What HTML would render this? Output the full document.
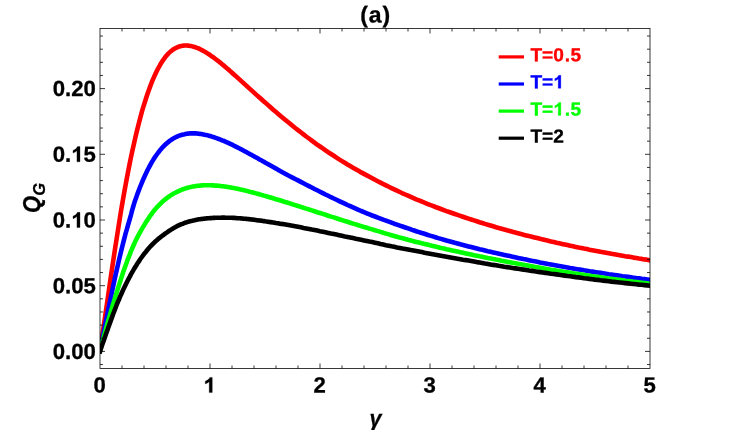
<!DOCTYPE html>
<html><head><meta charset="utf-8"><title>plot</title>
<style>
html,body{margin:0;padding:0;background:#fff;}
body{width:750px;height:430px;overflow:hidden;font-family:"Liberation Sans",sans-serif;}
svg{display:block;will-change:transform;}
text{font-family:"Liberation Sans",sans-serif;font-weight:bold;}
</style></head><body>
<svg width="750" height="430" viewBox="0 0 750 430">
<rect width="750" height="430" fill="#fff"/>
<defs><clipPath id="c"><rect x="100" y="28.5" width="550" height="340.0"/></clipPath></defs>
<g clip-path="url(#c)" fill="none" stroke-width="4.6" stroke-linejoin="round" stroke-linecap="square">
<path d="M100.0 351.3 L101.2 343.3 L102.3 335.3 L103.5 327.3 L104.7 319.4 L105.8 311.5 L107.0 303.7 L108.1 296.0 L109.2 288.3 L110.3 280.7 L111.4 273.2 L112.5 265.7 L113.6 258.4 L114.7 251.1 L115.8 244.0 L116.9 237.0 L118.0 230.0 L119.1 223.2 L120.1 216.5 L121.2 209.9 L122.3 203.5 L123.4 197.2 L124.5 191.0 L125.6 184.9 L126.7 179.0 L127.8 173.2 L128.9 167.5 L130.0 162.0 L131.1 156.6 L132.2 151.4 L133.4 146.3 L134.5 141.3 L135.6 136.5 L136.7 131.9 L137.8 127.4 L138.9 123.0 L140.0 118.8 L141.1 114.7 L142.2 110.7 L143.3 106.9 L144.5 103.2 L145.6 99.7 L146.7 96.3 L147.8 93.0 L148.9 89.9 L150.0 86.9 L151.1 84.0 L152.2 81.2 L153.3 78.6 L154.4 76.1 L155.5 73.7 L156.6 71.4 L157.7 69.3 L158.8 67.2 L159.9 65.3 L160.9 63.4 L162.0 61.7 L163.1 60.1 L164.2 58.6 L165.3 57.1 L166.4 55.8 L167.4 54.6 L168.5 53.4 L169.6 52.4 L170.7 51.4 L171.8 50.6 L172.8 49.7 L173.9 49.0 L175.0 48.4 L176.1 47.8 L177.2 47.3 L178.2 46.9 L179.3 46.5 L180.4 46.2 L181.5 45.9 L182.5 45.7 L183.6 45.6 L184.7 45.5 L185.8 45.5 L186.9 45.5 L188.0 45.6 L189.1 45.7 L190.2 45.9 L191.3 46.1 L192.4 46.4 L193.5 46.7 L194.6 47.0 L195.7 47.4 L196.8 47.8 L197.9 48.2 L199.0 48.7 L200.1 49.2 L201.2 49.8 L202.3 50.3 L203.4 50.9 L204.5 51.6 L205.6 52.2 L206.7 52.9 L207.8 53.6 L208.9 54.3 L210.0 55.0 L211.1 55.8 L212.2 56.6 L213.3 57.3 L214.4 58.2 L215.5 59.0 L216.6 59.8 L217.7 60.7 L218.8 61.5 L219.9 62.4 L221.0 63.3 L222.1 64.2 L223.2 65.1 L224.3 66.0 L225.4 67.0 L226.5 67.9 L227.6 68.9 L228.7 69.8 L229.8 70.8 L230.9 71.7 L232.0 72.7 L233.1 73.7 L234.2 74.7 L235.3 75.6 L236.4 76.6 L237.5 77.6 L238.6 78.6 L239.7 79.6 L240.8 80.6 L241.9 81.6 L243.0 82.6 L244.1 83.6 L245.2 84.6 L246.3 85.6 L247.4 86.6 L248.5 87.6 L249.6 88.6 L250.7 89.6 L251.8 90.6 L252.9 91.6 L254.0 92.6 L255.1 93.6 L256.2 94.6 L257.3 95.6 L258.4 96.6 L259.5 97.5 L260.6 98.5 L261.7 99.5 L262.8 100.5 L263.9 101.5 L265.0 102.4 L267.8 104.9 L270.5 107.3 L273.2 109.7 L276.0 112.0 L278.8 114.4 L281.5 116.7 L284.2 119.0 L287.0 121.3 L289.8 123.5 L292.5 125.8 L295.2 128.0 L298.0 130.1 L300.8 132.3 L303.5 134.4 L306.2 136.5 L309.0 138.5 L311.8 140.6 L314.5 142.6 L317.2 144.6 L320.0 146.5 L322.8 148.4 L325.5 150.3 L328.2 152.2 L331.0 154.0 L333.8 155.8 L336.5 157.6 L339.2 159.4 L342.0 161.1 L344.8 162.8 L347.5 164.5 L350.2 166.1 L353.0 167.7 L355.8 169.3 L358.5 170.8 L361.2 172.4 L364.0 173.9 L366.8 175.4 L369.5 176.8 L372.2 178.3 L375.0 179.8 L377.8 181.2 L380.5 182.6 L383.2 184.0 L386.0 185.4 L388.8 186.8 L391.5 188.1 L394.2 189.4 L397.0 190.7 L399.8 192.0 L402.5 193.3 L405.3 194.5 L408.0 195.7 L410.8 196.9 L413.5 198.1 L416.2 199.3 L419.0 200.4 L421.8 201.5 L424.5 202.7 L427.2 203.8 L430.0 204.9 L432.8 205.9 L435.5 207.0 L438.2 208.0 L441.0 209.0 L443.8 210.1 L446.5 211.1 L449.2 212.0 L452.0 213.0 L454.8 214.0 L457.5 214.9 L460.3 215.9 L463.0 216.8 L465.8 217.7 L468.5 218.6 L471.2 219.5 L474.0 220.4 L476.8 221.3 L479.5 222.2 L482.2 223.0 L485.0 223.9 L487.8 224.7 L490.5 225.5 L493.2 226.3 L496.0 227.2 L498.8 228.0 L501.5 228.7 L504.3 229.5 L507.0 230.3 L509.8 231.0 L512.5 231.8 L515.2 232.5 L518.0 233.2 L520.8 233.9 L523.5 234.7 L526.2 235.4 L529.0 236.1 L531.8 236.7 L534.5 237.4 L537.2 238.1 L540.0 238.8 L542.8 239.4 L545.5 240.1 L548.2 240.7 L551.0 241.4 L553.8 242.0 L556.5 242.7 L559.2 243.3 L562.0 243.9 L564.8 244.5 L567.5 245.1 L570.2 245.7 L573.0 246.3 L575.8 246.9 L578.5 247.5 L581.2 248.0 L584.0 248.6 L586.8 249.1 L589.5 249.7 L592.2 250.2 L595.0 250.7 L597.8 251.2 L600.5 251.8 L603.2 252.3 L606.0 252.8 L608.8 253.3 L611.5 253.8 L614.3 254.2 L617.0 254.7 L619.8 255.2 L622.5 255.7 L625.2 256.2 L628.0 256.6 L630.8 257.1 L633.5 257.6 L636.2 258.0 L639.0 258.5 L641.8 258.9 L644.5 259.4 L647.2 259.8 L650.0 260.3" stroke="#ff0000"/>
<path d="M100.0 351.3 L101.2 345.4 L102.3 339.5 L103.5 333.6 L104.6 327.9 L105.7 322.2 L106.9 316.5 L108.0 311.0 L109.1 305.4 L110.3 300.0 L111.4 294.7 L112.5 289.4 L113.6 284.2 L114.7 279.1 L115.8 274.1 L116.9 269.2 L118.0 264.4 L119.1 259.6 L120.2 255.0 L121.3 250.4 L122.4 246.0 L123.5 241.6 L124.6 237.4 L125.7 233.2 L126.9 229.2 L128.0 225.2 L129.1 221.4 L130.2 217.6 L131.2 214.0 L132.1 210.4 L133.1 207.0 L134.1 203.6 L135.2 200.3 L136.3 197.2 L137.4 194.1 L138.5 191.1 L139.6 188.2 L140.7 185.5 L141.8 182.8 L142.9 180.2 L144.0 177.7 L145.1 175.2 L146.2 172.9 L147.3 170.6 L148.4 168.5 L149.5 166.4 L150.6 164.4 L151.7 162.4 L152.8 160.6 L153.9 158.8 L155.0 157.1 L156.1 155.5 L157.2 154.0 L158.3 152.5 L159.4 151.1 L160.5 149.7 L161.6 148.4 L162.7 147.2 L163.8 146.1 L164.9 145.0 L166.0 144.0 L167.1 143.0 L168.2 142.1 L169.3 141.2 L170.4 140.4 L171.5 139.7 L172.6 138.9 L173.7 138.3 L174.8 137.7 L175.9 137.1 L177.0 136.6 L178.1 136.1 L179.2 135.7 L180.3 135.3 L181.4 135.0 L182.5 134.7 L183.6 134.4 L184.7 134.2 L185.8 133.9 L186.9 133.8 L188.0 133.6 L189.1 133.5 L190.2 133.4 L191.3 133.4 L192.4 133.4 L193.5 133.4 L194.6 133.4 L195.7 133.4 L196.8 133.5 L197.9 133.6 L199.0 133.7 L200.1 133.9 L201.2 134.0 L202.3 134.2 L203.4 134.4 L204.5 134.7 L205.6 134.9 L206.7 135.1 L207.8 135.4 L208.9 135.7 L210.0 136.0 L211.1 136.3 L212.2 136.7 L213.3 137.0 L214.4 137.4 L215.5 137.8 L216.6 138.2 L217.7 138.6 L218.8 139.0 L219.9 139.4 L221.0 139.8 L222.1 140.3 L223.2 140.7 L224.3 141.2 L225.4 141.7 L226.5 142.2 L227.6 142.7 L228.7 143.2 L229.8 143.7 L230.9 144.2 L232.0 144.7 L233.1 145.2 L234.2 145.8 L235.3 146.3 L236.4 146.9 L237.5 147.4 L238.6 148.0 L239.7 148.6 L240.8 149.1 L241.9 149.7 L243.0 150.3 L244.1 150.9 L245.2 151.5 L246.3 152.1 L247.4 152.7 L248.5 153.3 L249.6 153.9 L250.7 154.5 L251.8 155.1 L252.9 155.7 L254.0 156.3 L255.1 156.9 L256.2 157.5 L257.3 158.1 L258.4 158.7 L259.5 159.4 L260.6 160.0 L261.7 160.6 L262.8 161.2 L263.9 161.8 L265.0 162.5 L267.8 164.0 L270.5 165.6 L273.2 167.1 L276.0 168.6 L278.8 170.2 L281.5 171.7 L284.2 173.2 L287.0 174.7 L289.8 176.2 L292.5 177.6 L295.2 179.0 L298.0 180.4 L300.8 181.9 L303.5 183.3 L306.2 184.7 L309.0 186.1 L311.8 187.5 L314.5 189.0 L317.2 190.3 L320.0 191.7 L322.8 193.1 L325.5 194.5 L328.2 195.8 L331.0 197.2 L333.8 198.5 L336.5 199.8 L339.2 201.1 L342.0 202.4 L344.8 203.7 L347.5 205.0 L350.2 206.2 L353.0 207.4 L355.8 208.6 L358.5 209.8 L361.2 211.0 L364.0 212.1 L366.8 213.3 L369.5 214.4 L372.2 215.5 L375.0 216.5 L377.8 217.6 L380.5 218.6 L383.2 219.7 L386.0 220.7 L388.8 221.7 L391.5 222.7 L394.2 223.7 L397.0 224.6 L399.8 225.6 L402.5 226.5 L405.3 227.5 L408.0 228.4 L410.8 229.3 L413.5 230.3 L416.2 231.2 L419.0 232.1 L421.8 233.0 L424.5 233.8 L427.2 234.7 L430.0 235.6 L432.8 236.4 L435.5 237.2 L438.2 238.1 L441.0 238.9 L443.8 239.7 L446.5 240.5 L449.2 241.2 L452.0 242.0 L454.8 242.8 L457.5 243.5 L460.3 244.3 L463.0 245.0 L465.8 245.7 L468.5 246.4 L471.2 247.1 L474.0 247.8 L476.8 248.5 L479.5 249.2 L482.2 249.8 L485.0 250.5 L487.8 251.2 L490.5 251.8 L493.2 252.4 L496.0 253.1 L498.8 253.7 L501.5 254.3 L504.3 254.9 L507.0 255.5 L509.8 256.1 L512.5 256.7 L515.2 257.3 L518.0 257.9 L520.8 258.5 L523.5 259.1 L526.2 259.6 L529.0 260.2 L531.8 260.8 L534.5 261.3 L537.2 261.8 L540.0 262.4 L542.8 262.9 L545.5 263.4 L548.2 264.0 L551.0 264.5 L553.8 265.0 L556.5 265.5 L559.2 266.0 L562.0 266.5 L564.8 267.0 L567.5 267.5 L570.2 268.0 L573.0 268.4 L575.8 268.9 L578.5 269.4 L581.2 269.8 L584.0 270.3 L586.8 270.7 L589.5 271.2 L592.2 271.6 L595.0 272.1 L597.8 272.5 L600.5 272.9 L603.2 273.3 L606.0 273.7 L608.8 274.2 L611.5 274.6 L614.3 275.0 L617.0 275.4 L619.8 275.8 L622.5 276.2 L625.2 276.5 L628.0 276.9 L630.8 277.3 L633.5 277.7 L636.2 278.1 L639.0 278.4 L641.8 278.8 L644.5 279.1 L647.2 279.5 L650.0 279.9" stroke="#0000ff"/>
<path d="M100.0 351.3 L101.2 346.6 L102.5 341.9 L103.7 337.4 L104.9 332.9 L106.1 328.5 L107.3 324.2 L108.5 319.9 L109.7 315.7 L110.9 311.7 L112.1 307.7 L113.2 303.7 L114.4 299.9 L115.5 296.2 L116.7 292.5 L117.8 288.9 L118.9 285.4 L120.0 282.0 L121.1 278.6 L122.2 275.3 L123.2 272.1 L124.3 269.0 L125.4 266.0 L126.5 263.0 L127.5 260.1 L128.6 257.3 L129.7 254.6 L130.7 251.9 L131.8 249.3 L132.9 246.8 L134.0 244.3 L135.1 241.9 L136.2 239.6 L137.3 237.4 L138.5 235.2 L139.6 233.0 L140.8 231.0 L141.9 229.0 L143.0 227.0 L144.2 225.2 L145.3 223.3 L146.4 221.6 L147.5 219.9 L148.6 218.3 L149.6 216.7 L150.7 215.2 L151.7 213.8 L152.7 212.4 L153.7 211.1 L154.8 209.8 L155.8 208.6 L156.8 207.4 L157.8 206.3 L158.8 205.3 L159.8 204.3 L160.8 203.3 L161.8 202.3 L162.8 201.4 L163.8 200.5 L164.9 199.6 L166.0 198.8 L167.1 197.9 L168.2 197.1 L169.3 196.3 L170.4 195.6 L171.5 194.9 L172.6 194.2 L173.7 193.6 L174.8 193.0 L175.9 192.4 L177.0 191.8 L178.1 191.3 L179.2 190.8 L180.3 190.3 L181.4 189.9 L182.5 189.4 L183.6 189.0 L184.7 188.7 L185.8 188.3 L186.9 188.0 L188.0 187.7 L189.1 187.4 L190.2 187.1 L191.3 186.9 L192.4 186.6 L193.5 186.4 L194.6 186.2 L195.7 186.1 L196.8 185.9 L197.9 185.8 L199.0 185.7 L200.1 185.6 L201.2 185.5 L202.3 185.4 L203.4 185.3 L204.5 185.3 L205.6 185.3 L206.7 185.2 L207.8 185.2 L208.9 185.3 L210.0 185.3 L211.1 185.3 L212.2 185.4 L213.3 185.4 L214.4 185.5 L215.5 185.6 L216.6 185.6 L217.7 185.7 L218.8 185.8 L219.9 185.9 L221.0 186.1 L222.1 186.2 L223.2 186.3 L224.3 186.5 L225.4 186.6 L226.5 186.8 L227.6 187.0 L228.7 187.2 L229.8 187.3 L230.9 187.5 L232.0 187.7 L233.1 187.9 L234.2 188.1 L235.3 188.4 L236.4 188.6 L237.5 188.8 L238.6 189.0 L239.7 189.3 L240.8 189.5 L241.9 189.8 L243.0 190.0 L244.1 190.3 L245.2 190.6 L246.3 190.8 L247.4 191.1 L248.5 191.4 L249.6 191.7 L250.7 191.9 L251.8 192.2 L252.9 192.5 L254.0 192.8 L255.1 193.1 L256.2 193.4 L257.3 193.7 L258.4 194.0 L259.5 194.3 L260.6 194.6 L261.7 194.9 L262.8 195.3 L263.9 195.6 L265.0 195.9 L267.8 196.7 L270.5 197.5 L273.2 198.3 L276.0 199.2 L278.8 200.0 L281.5 200.8 L284.2 201.7 L287.0 202.5 L289.8 203.4 L292.5 204.3 L295.2 205.1 L298.0 206.0 L300.8 206.9 L303.5 207.8 L306.2 208.6 L309.0 209.5 L311.8 210.4 L314.5 211.3 L317.2 212.2 L320.0 213.0 L322.8 213.9 L325.5 214.8 L328.2 215.7 L331.0 216.6 L333.8 217.4 L336.5 218.3 L339.2 219.2 L342.0 220.1 L344.8 221.0 L347.5 221.8 L350.2 222.7 L353.0 223.6 L355.8 224.4 L358.5 225.3 L361.2 226.1 L364.0 227.0 L366.8 227.8 L369.5 228.6 L372.2 229.4 L375.0 230.3 L377.8 231.1 L380.5 231.9 L383.2 232.8 L386.0 233.6 L388.8 234.4 L391.5 235.2 L394.2 236.0 L397.0 236.8 L399.8 237.6 L402.5 238.3 L405.3 239.0 L408.0 239.8 L410.8 240.5 L413.5 241.2 L416.2 241.9 L419.0 242.6 L421.8 243.3 L424.5 243.9 L427.2 244.6 L430.0 245.3 L432.8 245.9 L435.5 246.6 L438.2 247.2 L441.0 247.9 L443.8 248.5 L446.5 249.2 L449.2 249.8 L452.0 250.4 L454.8 251.0 L457.5 251.6 L460.3 252.2 L463.0 252.8 L465.8 253.4 L468.5 254.0 L471.2 254.6 L474.0 255.2 L476.8 255.7 L479.5 256.3 L482.2 256.8 L485.0 257.4 L487.8 258.0 L490.5 258.5 L493.2 259.0 L496.0 259.6 L498.8 260.1 L501.5 260.7 L504.3 261.2 L507.0 261.7 L509.8 262.2 L512.5 262.7 L515.2 263.2 L518.0 263.8 L520.8 264.3 L523.5 264.8 L526.2 265.3 L529.0 265.8 L531.8 266.3 L534.5 266.8 L537.2 267.2 L540.0 267.7 L542.8 268.2 L545.5 268.7 L548.2 269.2 L551.0 269.7 L553.8 270.1 L556.5 270.6 L559.2 271.0 L562.0 271.5 L564.8 272.0 L567.5 272.4 L570.2 272.8 L573.0 273.3 L575.8 273.7 L578.5 274.1 L581.2 274.5 L584.0 274.9 L586.8 275.4 L589.5 275.8 L592.2 276.2 L595.0 276.6 L597.8 276.9 L600.5 277.3 L603.2 277.7 L606.0 278.1 L608.8 278.5 L611.5 278.8 L614.3 279.2 L617.0 279.6 L619.8 279.9 L622.5 280.3 L625.2 280.7 L628.0 281.0 L630.8 281.4 L633.5 281.7 L636.2 282.0 L639.0 282.4 L641.8 282.7 L644.5 283.0 L647.2 283.4 L650.0 283.7" stroke="#00ff00"/>
<path d="M100.0 351.3 L101.2 347.7 L102.4 344.2 L103.7 340.7 L104.9 337.3 L106.0 334.0 L107.2 330.7 L108.3 327.6 L109.4 324.4 L110.5 321.4 L111.6 318.4 L112.7 315.4 L113.7 312.6 L114.8 309.8 L115.9 307.0 L116.9 304.3 L118.0 301.7 L119.1 299.2 L120.1 296.6 L121.2 294.2 L122.3 291.8 L123.3 289.5 L124.4 287.2 L125.5 285.0 L126.6 282.8 L127.6 280.7 L128.7 278.6 L129.8 276.6 L130.8 274.6 L131.9 272.7 L133.0 270.8 L134.0 269.0 L135.1 267.2 L136.2 265.5 L137.2 263.8 L138.3 262.2 L139.4 260.6 L140.4 259.0 L141.5 257.5 L142.6 256.0 L143.6 254.6 L144.7 253.2 L145.8 251.9 L146.9 250.5 L147.9 249.3 L149.0 248.0 L150.1 246.8 L151.2 245.6 L152.3 244.5 L153.4 243.4 L154.5 242.3 L155.6 241.3 L156.8 240.3 L157.9 239.3 L159.0 238.3 L160.2 237.4 L161.3 236.5 L162.5 235.6 L163.6 234.8 L164.8 233.9 L165.9 233.1 L167.1 232.3 L168.2 231.5 L169.3 230.8 L170.4 230.1 L171.5 229.4 L172.6 228.7 L173.7 228.1 L174.8 227.4 L175.9 226.8 L177.0 226.2 L178.1 225.7 L179.2 225.2 L180.3 224.7 L181.4 224.2 L182.5 223.8 L183.6 223.3 L184.7 222.9 L185.8 222.5 L186.9 222.2 L188.0 221.8 L189.1 221.5 L190.2 221.2 L191.3 220.9 L192.4 220.7 L193.5 220.4 L194.6 220.2 L195.7 219.9 L196.8 219.7 L197.9 219.5 L199.0 219.3 L200.1 219.2 L201.2 219.0 L202.3 218.9 L203.4 218.7 L204.5 218.6 L205.6 218.5 L206.7 218.4 L207.8 218.3 L208.9 218.2 L210.0 218.1 L211.1 218.1 L212.2 218.0 L213.3 217.9 L214.4 217.9 L215.5 217.8 L216.6 217.8 L217.7 217.7 L218.8 217.7 L219.9 217.7 L221.0 217.7 L222.1 217.6 L223.2 217.6 L224.3 217.6 L225.4 217.7 L226.5 217.7 L227.6 217.7 L228.7 217.7 L229.8 217.8 L230.9 217.8 L232.0 217.8 L233.1 217.9 L234.2 217.9 L235.3 218.0 L236.4 218.1 L237.5 218.2 L238.6 218.2 L239.7 218.3 L240.8 218.4 L241.9 218.5 L243.0 218.6 L244.1 218.7 L245.2 218.8 L246.3 218.9 L247.4 219.0 L248.5 219.1 L249.6 219.3 L250.7 219.4 L251.8 219.5 L252.9 219.6 L254.0 219.8 L255.1 219.9 L256.2 220.1 L257.3 220.2 L258.4 220.4 L259.5 220.5 L260.6 220.6 L261.7 220.8 L262.8 221.0 L263.9 221.1 L265.0 221.3 L267.8 221.7 L270.5 222.1 L273.2 222.5 L276.0 223.0 L278.8 223.4 L281.5 223.9 L284.2 224.3 L287.0 224.8 L289.8 225.3 L292.5 225.8 L295.2 226.3 L298.0 226.8 L300.8 227.3 L303.5 227.9 L306.2 228.4 L309.0 228.9 L311.8 229.5 L314.5 230.0 L317.2 230.6 L320.0 231.2 L322.8 231.7 L325.5 232.3 L328.2 232.9 L331.0 233.5 L333.8 234.0 L336.5 234.6 L339.2 235.2 L342.0 235.8 L344.8 236.4 L347.5 236.9 L350.2 237.5 L353.0 238.1 L355.8 238.7 L358.5 239.2 L361.2 239.8 L364.0 240.4 L366.8 241.0 L369.5 241.6 L372.2 242.1 L375.0 242.7 L377.8 243.3 L380.5 244.0 L383.2 244.6 L386.0 245.2 L388.8 245.7 L391.5 246.3 L394.2 246.8 L397.0 247.4 L399.8 247.9 L402.5 248.5 L405.3 249.0 L408.0 249.5 L410.8 250.1 L413.5 250.6 L416.2 251.1 L419.0 251.6 L421.8 252.1 L424.5 252.7 L427.2 253.2 L430.0 253.7 L432.8 254.2 L435.5 254.7 L438.2 255.2 L441.0 255.7 L443.8 256.2 L446.5 256.7 L449.2 257.2 L452.0 257.7 L454.8 258.2 L457.5 258.7 L460.3 259.2 L463.0 259.7 L465.8 260.1 L468.5 260.6 L471.2 261.1 L474.0 261.6 L476.8 262.1 L479.5 262.5 L482.2 263.0 L485.0 263.5 L487.8 263.9 L490.5 264.4 L493.2 264.9 L496.0 265.3 L498.8 265.8 L501.5 266.2 L504.3 266.7 L507.0 267.1 L509.8 267.5 L512.5 268.0 L515.2 268.4 L518.0 268.8 L520.8 269.2 L523.5 269.6 L526.2 270.0 L529.0 270.5 L531.8 270.9 L534.5 271.3 L537.2 271.7 L540.0 272.1 L542.8 272.5 L545.5 272.9 L548.2 273.3 L551.0 273.7 L553.8 274.0 L556.5 274.4 L559.2 274.8 L562.0 275.2 L564.8 275.6 L567.5 276.0 L570.2 276.3 L573.0 276.7 L575.8 277.1 L578.5 277.4 L581.2 277.8 L584.0 278.2 L586.8 278.5 L589.5 278.9 L592.2 279.2 L595.0 279.6 L597.8 279.9 L600.5 280.3 L603.2 280.6 L606.0 280.9 L608.8 281.2 L611.5 281.6 L614.3 281.9 L617.0 282.2 L619.8 282.5 L622.5 282.8 L625.2 283.1 L628.0 283.4 L630.8 283.7 L633.5 284.0 L636.2 284.3 L639.0 284.6 L641.8 284.8 L644.5 285.1 L647.2 285.4 L650.0 285.7" stroke="#000000"/>
</g>
<rect x="100" y="28.5" width="550" height="340.0" fill="none" stroke="#000" stroke-width="0.78"/>
<path d="M122.0 368.5 v-3.0 M122.0 28.5 v3.0 M144.0 368.5 v-3.0 M144.0 28.5 v3.0 M166.0 368.5 v-3.0 M166.0 28.5 v3.0 M188.0 368.5 v-3.0 M188.0 28.5 v3.0 M210.0 368.5 v-5.0 M210.0 28.5 v5.0 M232.0 368.5 v-3.0 M232.0 28.5 v3.0 M254.0 368.5 v-3.0 M254.0 28.5 v3.0 M276.0 368.5 v-3.0 M276.0 28.5 v3.0 M298.0 368.5 v-3.0 M298.0 28.5 v3.0 M320.0 368.5 v-5.0 M320.0 28.5 v5.0 M342.0 368.5 v-3.0 M342.0 28.5 v3.0 M364.0 368.5 v-3.0 M364.0 28.5 v3.0 M386.0 368.5 v-3.0 M386.0 28.5 v3.0 M408.0 368.5 v-3.0 M408.0 28.5 v3.0 M430.0 368.5 v-5.0 M430.0 28.5 v5.0 M452.0 368.5 v-3.0 M452.0 28.5 v3.0 M474.0 368.5 v-3.0 M474.0 28.5 v3.0 M496.0 368.5 v-3.0 M496.0 28.5 v3.0 M518.0 368.5 v-3.0 M518.0 28.5 v3.0 M540.0 368.5 v-5.0 M540.0 28.5 v5.0 M562.0 368.5 v-3.0 M562.0 28.5 v3.0 M584.0 368.5 v-3.0 M584.0 28.5 v3.0 M606.0 368.5 v-3.0 M606.0 28.5 v3.0 M628.0 368.5 v-3.0 M628.0 28.5 v3.0 M100 364.54 h3.0 M650 364.54 h-3.0 M100 351.40 h5.0 M650 351.40 h-5.0 M100 338.26 h3.0 M650 338.26 h-3.0 M100 325.12 h3.0 M650 325.12 h-3.0 M100 311.98 h3.0 M650 311.98 h-3.0 M100 298.84 h3.0 M650 298.84 h-3.0 M100 285.70 h5.0 M650 285.70 h-5.0 M100 272.56 h3.0 M650 272.56 h-3.0 M100 259.42 h3.0 M650 259.42 h-3.0 M100 246.28 h3.0 M650 246.28 h-3.0 M100 233.14 h3.0 M650 233.14 h-3.0 M100 220.00 h5.0 M650 220.00 h-5.0 M100 206.86 h3.0 M650 206.86 h-3.0 M100 193.72 h3.0 M650 193.72 h-3.0 M100 180.58 h3.0 M650 180.58 h-3.0 M100 167.44 h3.0 M650 167.44 h-3.0 M100 154.30 h5.0 M650 154.30 h-5.0 M100 141.16 h3.0 M650 141.16 h-3.0 M100 128.02 h3.0 M650 128.02 h-3.0 M100 114.88 h3.0 M650 114.88 h-3.0 M100 101.74 h3.0 M650 101.74 h-3.0 M100 88.60 h5.0 M650 88.60 h-5.0 M100 75.46 h3.0 M650 75.46 h-3.0 M100 62.32 h3.0 M650 62.32 h-3.0 M100 49.18 h3.0 M650 49.18 h-3.0 M100 36.04 h3.0 M650 36.04 h-3.0" stroke="#000" stroke-width="0.78" fill="none"/>
<g font-size="23.7" fill="#000"><g transform="translate(95.9 358.9) rotate(0.03) scale(1.007 1)" font-size="22.0" fill="#000" stroke="#000" stroke-width="0.3"><text x="-42.81" y="0">0</text><text x="-30.58" y="0">.</text><text x="-24.46" y="0">0</text><text x="-12.23" y="0">0</text></g><g transform="translate(95.9 293.2) rotate(0.03) scale(1.007 1)" font-size="22.0" fill="#000" stroke="#000" stroke-width="0.3"><text x="-42.81" y="0">0</text><text x="-30.58" y="0">.</text><text x="-24.46" y="0">0</text><text x="-12.23" y="0">5</text></g><g transform="translate(95.9 227.5) rotate(0.03) scale(1.007 1)" font-size="22.0" fill="#000" stroke="#000" stroke-width="0.3"><text x="-42.81" y="0">0</text><text x="-30.58" y="0">.</text><path d="M-15.81 0.00L-18.82 0.00L-18.82 -10.92Q-20.48 -9.44 -22.72 -8.72L-22.72 -11.35Q-21.54 -11.73 -20.16 -12.76Q-18.77 -13.80 -18.26 -15.18L-15.81 -15.18Z"/><text x="-12.23" y="0">0</text></g><g transform="translate(95.9 161.8) rotate(0.03) scale(1.007 1)" font-size="22.0" fill="#000" stroke="#000" stroke-width="0.3"><text x="-42.81" y="0">0</text><text x="-30.58" y="0">.</text><path d="M-15.81 0.00L-18.82 0.00L-18.82 -10.92Q-20.48 -9.44 -22.72 -8.72L-22.72 -11.35Q-21.54 -11.73 -20.16 -12.76Q-18.77 -13.80 -18.26 -15.18L-15.81 -15.18Z"/><text x="-12.23" y="0">5</text></g><g transform="translate(95.9 96.1) rotate(0.03) scale(1.007 1)" font-size="22.0" fill="#000" stroke="#000" stroke-width="0.3"><text x="-42.81" y="0">0</text><text x="-30.58" y="0">.</text><text x="-24.46" y="0">2</text><text x="-12.23" y="0">0</text></g><g transform="translate(99.7 392.6) rotate(0.03) scale(1.007 1)" font-size="22.0" fill="#000" stroke="#000" stroke-width="0.3"><text x="-6.12" y="0">0</text></g><g transform="translate(209.7 392.6) rotate(0.03) scale(1.007 1)" font-size="22.0" fill="#000" stroke="#000" stroke-width="0.3"><path d="M2.54 0.00L-0.48 0.00L-0.48 -10.92Q-2.13 -9.44 -4.38 -8.72L-4.38 -11.35Q-3.19 -11.73 -1.81 -12.76Q-0.42 -13.80 0.09 -15.18L2.54 -15.18Z"/></g><g transform="translate(319.7 392.6) rotate(0.03) scale(1.007 1)" font-size="22.0" fill="#000" stroke="#000" stroke-width="0.3"><text x="-6.12" y="0">2</text></g><g transform="translate(429.7 392.6) rotate(0.03) scale(1.007 1)" font-size="22.0" fill="#000" stroke="#000" stroke-width="0.3"><text x="-6.12" y="0">3</text></g><g transform="translate(539.7 392.6) rotate(0.03) scale(1.007 1)" font-size="22.0" fill="#000" stroke="#000" stroke-width="0.3"><text x="-6.12" y="0">4</text></g><g transform="translate(649.7 392.6) rotate(0.03) scale(1.007 1)" font-size="22.0" fill="#000" stroke="#000" stroke-width="0.3"><text x="-6.12" y="0">5</text></g></g>
<g transform="translate(360.3 22.6) rotate(0.03) scale(1.0 1)" font-size="23" fill="#000" stroke="#000" stroke-width="0.3"><text x="0.00" y="0">(</text><text x="8.40" y="0">a</text><text x="22.10" y="0">)</text></g>
<line x1="498.7" x2="524" y1="56.9" y2="56.9" stroke="#ff0000" stroke-width="3.2"/><g transform="translate(530.4 61.2) rotate(0.03) scale(1.02 1)" font-size="18.8" fill="#ff0000" stroke="#ff0000" stroke-width="0.3"><text x="0.00" y="0">T</text><text x="11.49" y="0">=</text><text x="22.47" y="0">0</text><text x="33.62" y="0">.</text><text x="39.35" y="0">5</text></g><line x1="498.7" x2="524" y1="84.0" y2="84.0" stroke="#0000ff" stroke-width="3.2"/><g transform="translate(530.4 88.3) rotate(0.03) scale(1.02 1)" font-size="18.8" fill="#0000ff" stroke="#0000ff" stroke-width="0.3"><text x="0.00" y="0">T</text><text x="11.49" y="0">=</text><path d="M29.86 0.00L27.29 0.00L27.29 -9.33Q25.87 -8.06 23.95 -7.46L23.95 -9.70Q24.96 -10.02 26.15 -10.91Q27.33 -11.79 27.77 -12.97L29.86 -12.97Z"/></g><line x1="498.7" x2="524" y1="111.1" y2="111.1" stroke="#00ff00" stroke-width="3.2"/><g transform="translate(530.4 115.4) rotate(0.03) scale(1.02 1)" font-size="18.8" fill="#00ff00" stroke="#00ff00" stroke-width="0.3"><text x="0.00" y="0">T</text><text x="11.49" y="0">=</text><path d="M29.86 0.00L27.29 0.00L27.29 -9.33Q25.87 -8.06 23.95 -7.46L23.95 -9.70Q24.96 -10.02 26.15 -10.91Q27.33 -11.79 27.77 -12.97L29.86 -12.97Z"/><text x="33.62" y="0">.</text><text x="39.35" y="0">5</text></g><line x1="498.7" x2="524" y1="138.2" y2="138.2" stroke="#000000" stroke-width="3.2"/><g transform="translate(530.4 142.5) rotate(0.03) scale(1.02 1)" font-size="18.8" fill="#000000" stroke="#000000" stroke-width="0.3"><text x="0.00" y="0">T</text><text x="11.49" y="0">=</text><text x="22.47" y="0">2</text></g>
<text transform="translate(39.6 204.5) rotate(-90) scale(0.93 1)" text-anchor="middle" font-size="23.5" font-style="italic" fill="#000" stroke="#000" stroke-width="0.35">Q</text>
<text transform="translate(44.8 189.4) rotate(-90)" text-anchor="middle" font-size="16.5" font-style="italic" fill="#000" stroke="#000" stroke-width="0.25">G</text>
<text x="375.6" y="426.1" text-anchor="middle" font-size="21.5" font-style="italic" fill="#000" stroke="#000" stroke-width="0.3">γ</text>
</svg>
</body></html>
